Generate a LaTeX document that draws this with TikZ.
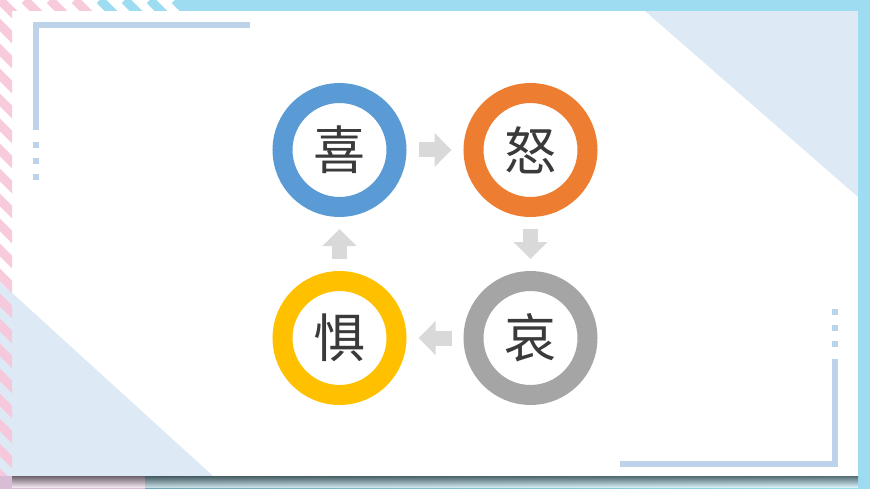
\documentclass[tikz,border=0pt]{standalone}
\usepackage{fontspec}
\newfontfamily\cjk{Noto Sans CJK SC}
\usetikzlibrary{arrows.meta,positioning}
\definecolor{ringblue}{HTML}{5B9BD5}
\definecolor{ringorange}{HTML}{ED7D31}
\definecolor{ringgray}{HTML}{A5A5A5}
\definecolor{ringyellow}{HTML}{FFC000}
\definecolor{flowgray}{HTML}{D9D9D9}
\definecolor{framelight}{HTML}{BDD3EA}
\definecolor{skyband}{HTML}{9DDCF1}
\definecolor{pinkband}{HTML}{F8C6D9}
\definecolor{paleblue}{HTML}{DDE9F5}
\definecolor{inkgray}{HTML}{3A3A3A}
\definecolor{lavender}{HTML}{D9BCD6}
\definecolor{deepteal}{HTML}{6FA8BA}

\begin{document}
\begin{tikzpicture}[x=1pt,y=-1pt,>={Triangle[length=17pt,width=33pt]},
                    node distance=191pt]
  \tikzstyle{ring}=[circle,draw,line width=20pt,minimum size=114pt,inner sep=0pt,
                    fill=white,text=inkgray,font=\cjk\fontsize{52}{52}\selectfont]
  \tikzstyle{flow}=[draw=flowgray,line width=15pt,->,shorten <=12pt,shorten >=12pt]
  \tikzstyle{frameline}=[draw=framelight,line width=6pt]
  \tikzstyle{stripe}=[line width=9pt]

  % slide and card
  \useasboundingbox (0,0) rectangle (870,489);
  \fill[white] (0,0) rectangle (870,489);
  \fill[paleblue] (645,11) -- (858,11) -- (858,197) -- cycle;
  \fill[paleblue] (0,282) -- (0,476) -- (213,476) -- cycle;
  \fill[skyband] (180,0) rectangle (870,11);
  \fill[skyband] (858,0) rectangle (870,489);

  % striped border
  \begin{scope}
    \clip (0,0) rectangle (95,11) (0,0) rectangle (12,489);
    \foreach \s in {-525,-500,...,100}
      \draw[stripe,pinkband,opacity=0.9] (\s,0) -- ++(530,530);
  \end{scope}
  \begin{scope}
    \clip (95,0) rectangle (180,11);
    \foreach \s in {75,100,...,200}
      \draw[stripe,skyband] (\s,0) -- ++(30,30);
  \end{scope}

  % bottom shadow
  \fill[lavender] (0,476) rectangle (145,489);
  \shade[left color=deepteal,right color=skyband] (145,476) rectangle (870,489);
  \shade[top color=black!85,bottom color=white,fill opacity=0.6] (12,476) rectangle (858,487);

  % frame corners
  \draw[frameline] (250,25) -- (36,25) -- (36,130);
  \foreach \y in {145,161,177}
    \fill[framelight] (33,\y-3) rectangle (39,\y+3);
  \draw[frameline] (835,359) -- (835,464) -- (620,464);
  \foreach \y in {312,328,344}
    \fill[framelight] (832,\y-3) rectangle (838,\y+3);

  % the four rings
  \node[ring,draw=ringblue]   (xi) at (339.5,150)                   {喜};
  \node[ring,draw=ringorange] (nu) [right of=xi]                    {怒};
  \node[ring,draw=ringgray]   (ai) [below of=nu,node distance=188pt] {哀};
  \node[ring,draw=ringyellow] (ju) [left of=ai]                     {惧};

  \path (xi) edge[flow] (nu)
        (nu) edge[flow] (ai)
        (ai) edge[flow] (ju)
        (ju) edge[flow] (xi);

\end{tikzpicture}
\end{document}
